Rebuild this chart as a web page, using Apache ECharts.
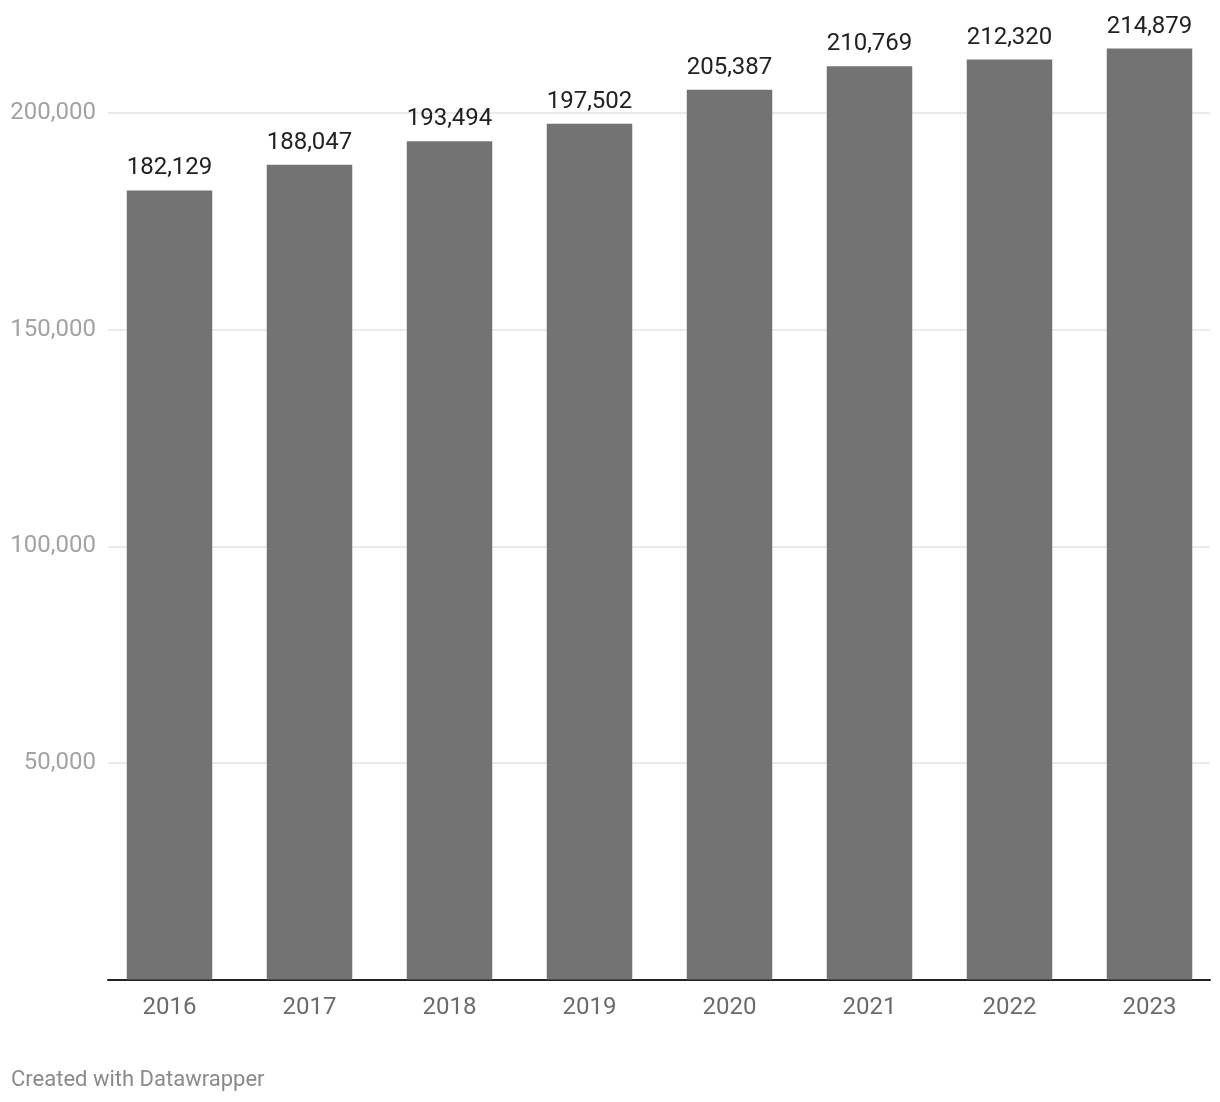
<!DOCTYPE html>
<html>
<head>
<meta charset="utf-8">
<script src="https://cdn.jsdelivr.net/npm/echarts@6/dist/echarts.min.js"></script>
<style>
html,body{margin:0;padding:0;background:#fff;}
#chart{width:1220px;height:1102px;}
</style>
</head>
<body>
<div id="chart"></div>
<script>
const categories = ['2016','2017','2018','2019','2020','2021','2022','2023'];
const values = [182129, 188047, 193494, 197502, 205387, 210769, 212320, 214879];
const yTicks = [0, 50000, 100000, 150000, 200000];
const credit = 'Created with Datawrapper';

const fmt = v => v.toLocaleString('en-US');
const FONT = 'Roboto';

const chart = echarts.init(document.getElementById('chart'));
chart.setOption({
  animation: false,
  backgroundColor: '#ffffff',
  textStyle: { fontFamily: FONT },
  grid: [
    { left: 108, right: 10, top: 113, bottom: 122.5 },
    { left: 99.5, right: 0.5, top: 113, bottom: 122.5 }
  ],
  xAxis: [
    {
      gridIndex: 0, type: 'category', data: categories,
      axisLine: { show: true, lineStyle: { color: '#222222', width: 2 } },
      axisTick: { show: false }, axisLabel: { show: false }, splitLine: { show: false }
    },
    {
      gridIndex: 1, type: 'category', data: categories,
      axisLine: { show: false }, axisTick: { show: false },
      axisLabel: { color: '#6b6b6b', fontSize: 24, fontFamily: FONT, margin: 16 }
    }
  ],
  yAxis: [
    {
      gridIndex: 0, type: 'value', min: yTicks[0], max: yTicks[yTicks.length - 1], interval: 50000,
      axisLine: { show: false }, axisTick: { show: false },
      axisLabel: {
        color: '#a3a3a3', fontSize: 24, fontFamily: FONT, margin: 12,
        formatter: v => (v === 0 ? '' : fmt(v))
      },
      splitLine: { show: true, lineStyle: { color: '#e3e3e3', width: 1.5 } }
    },
    {
      gridIndex: 1, type: 'value', min: yTicks[0], max: yTicks[yTicks.length - 1], interval: 50000,
      show: false, splitLine: { show: false }
    }
  ],
  series: [
    {
      type: 'bar', xAxisIndex: 1, yAxisIndex: 1, data: values,
      barWidth: 85.5, clip: false,
      itemStyle: { color: '#737373' },
      label: {
        show: true, position: 'top', distance: 10,
        color: '#222222', fontSize: 24, fontFamily: FONT,
        formatter: p => fmt(p.value)
      },
      z: 1
    }
  ],
  graphic: [
    {
      type: 'text', left: 11, top: 1069,
      style: { text: credit, fill: '#8a8a8a', fontSize: 22, fontFamily: FONT }
    }
  ]
});
</script>
</body>
</html>
